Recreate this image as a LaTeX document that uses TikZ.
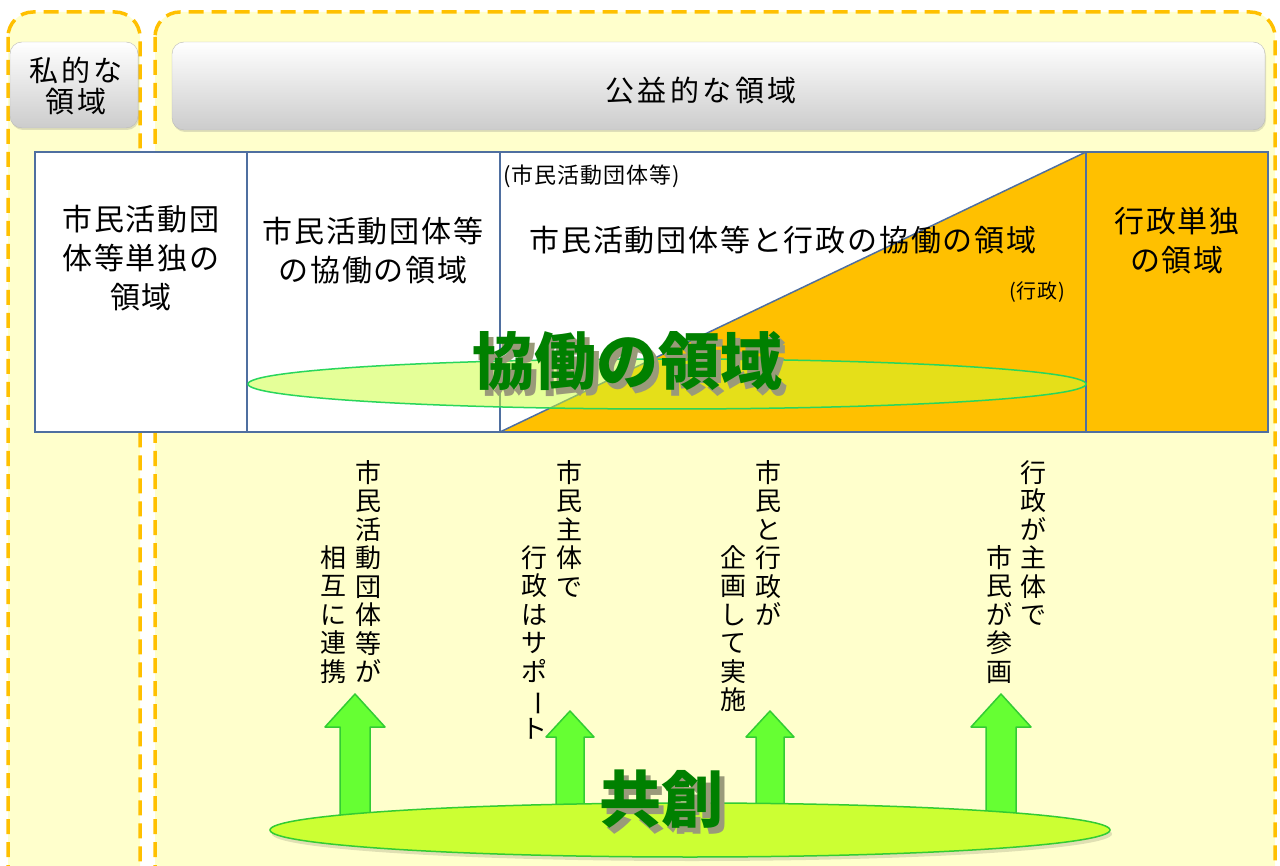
\documentclass[tikz,border=0pt]{standalone}
\usepackage{fontspec}
\setmainfont{Noto Sans CJK JP}
\usetikzlibrary{positioning}
\usetikzlibrary{shadows}

\definecolor{paleyellow}{HTML}{FFFFCC}
\definecolor{dashorange}{HTML}{FFC000}
\definecolor{govorange}{HTML}{FFC000}
\definecolor{gridblue}{HTML}{4F6FA0}
\definecolor{darkgreen}{HTML}{008000}
\definecolor{arrowgreen}{HTML}{66FF33}
\definecolor{limegreen}{HTML}{CCFF33}
\definecolor{edgegreen}{HTML}{33CC33}
\definecolor{shadowgray}{HTML}{9A9A7A}

\tikzset{
  dashbox/.style={draw=dashorange, fill=paleyellow, line width=3.5pt, dash pattern=on 15pt off 8pt, rounded corners=25pt},
  button/.style={draw=gray!55, rounded corners=12pt, top color=white, bottom color=gray!40, middle color=gray!20,
    drop shadow={opacity=0.25, shadow xshift=1pt, shadow yshift=-2pt}},
  btntext/.style={font=\fontsize{29}{34}\selectfont\addfontfeature{LetterSpace=12}, align=center},
  celltext/.style={font=\fontsize{30}{39}\selectfont\addfontfeature{LetterSpace=6}, align=center},
  smalltext/.style={font=\fontsize{20}{22}\selectfont\addfontfeature{LetterSpace=4}},
  tate/.style={font=\fontsize{26}{28.5}\selectfont, align=center, inner sep=0pt, anchor=north},
  bigword/.style={font=\fontsize{62}{64}\selectfont\bfseries, text=darkgreen},
  blockarrow/.style={fill=arrowgreen, draw=edgegreen, line width=1.5pt, line join=round}
}

% green word with a soft shadow behind it
\newcommand{\shadowword}[1]{\rlap{\hspace{5pt}\raisebox{-6pt}{\textcolor{shadowgray}{#1}}}#1}
\newcommand{\chouon}{\rotatebox[origin=c]{-90}{ー}}

\begin{document}
\begin{tikzpicture}[x=1pt, y=-1pt]
    \useasboundingbox (0,0) rectangle (1280,866);
    \clip (0,0) rectangle (1280,866);

    % Private / public areas
    \draw[dashbox] (8,12) rectangle (140,900);
    \draw[dashbox] (155,12) rectangle (1275,900);
    \node[button, minimum width=128pt, minimum height=86pt] (private) at (74,85) {};
    \node[btntext] (privatelbl) at (76,86) {私的な\\[-3pt]領域};
    \node[button, minimum width=1093pt, minimum height=88pt] (public) at (718.5,86) {};
    \node[btntext] (publiclbl) at (701,90) {公益的な領域};

    % Table of areas
    \coordinate (tl) at (35,152);
    \coordinate (br) at (1268,432);
    \fill[white] (tl) rectangle (br);
    \fill[govorange] (1086,152) rectangle (br);
    \fill[govorange] (500,432) -- (1086,152) -- (1086,432) -- cycle;
    \draw[gridblue, line width=1.5pt] (500,432) -- (1086,152);
    \foreach \x in {247,500,1086} {
        \draw[gridblue, line width=1.5pt] (\x,152) -- (\x,432);
    }
    \draw[gridblue, line width=1.5pt] (tl) rectangle (br);

    \node[celltext] (solo) at (141,258) {市民活動団\\体等単独の\\領域};
    \node[celltext] (mutual) at (373,251) {市民活動団体等\\の協働の領域};
    \node[smalltext, font=\fontsize{22}{24}\selectfont\addfontfeature{LetterSpace=4}, anchor=west] (citizenlbl) at (500,176) {(市民活動団体等)};
    \node[celltext] (joint) at (783,240) {市民活動団体等と行政の協働の領域};
    \node[smalltext] (govlbl) at (1037,292) {(行政)};
    \node[celltext] (govonly) at (1177,241) {行政単独\\の領域};

    % Collaboration ellipse
    \fill[limegreen, opacity=0.5] (667,384) ellipse [x radius=419, y radius=25];
    \draw[edgegreen!80!cyan, line width=1.5pt] (667,384) ellipse [x radius=419, y radius=25];
    \node[bigword] (kyodo) at (627,364) {\shadowword{協働の領域}};

    % Vertical labels
    \node[tate] (c1a) at (368,460) {市\\民\\活\\動\\団\\体\\等\\が};
    \node[tate] (c1b) at (333,545) {相\\互\\に\\連\\携};
    \node[tate] (c2a) at (569,460) {市\\民\\主\\体\\で};
    \node[tate] (c2b) at (534,545) {行\\政\\は\\サ\\ポ\\\chouon\\ト};
    \node[tate] (c3a) at (768,460) {市\\民\\と\\行\\政\\が};
    \node[tate] (c3b) at (733,545) {企\\画\\し\\て\\実\\施};
    \node[tate] (c4a) at (1033,460) {行\\政\\が\\主\\体\\で};
    \node[tate] (c4b) at (999,545) {市\\民\\が\\参\\画};

    % Arrows: centre / tip / half head / half shaft / head base
    \foreach \x/\tip/\hh/\hs/\base in {355/694/30/15/727, 570/711/24/14/737, 770/711/24/14/737, 1001/694/30/15/727} {
        \draw[blockarrow] (\x-\hs,820) -- (\x-\hs,\base) -- (\x-\hh,\base) -- (\x,\tip)
            -- (\x+\hh,\base) -- (\x+\hs,\base) -- (\x+\hs,820) -- cycle;
    }

    % Co-creation ellipse
    \fill[black, opacity=0.12] (692,834) ellipse [x radius=420, y radius=27];
    \fill[limegreen] (690,830) ellipse [x radius=420, y radius=27];
    \draw[edgegreen, line width=1.5pt] (690,830) ellipse [x radius=420, y radius=27];
    \node[bigword] (kyoso) at (661,802) {\shadowword{共創}};
\end{tikzpicture}
\end{document}
